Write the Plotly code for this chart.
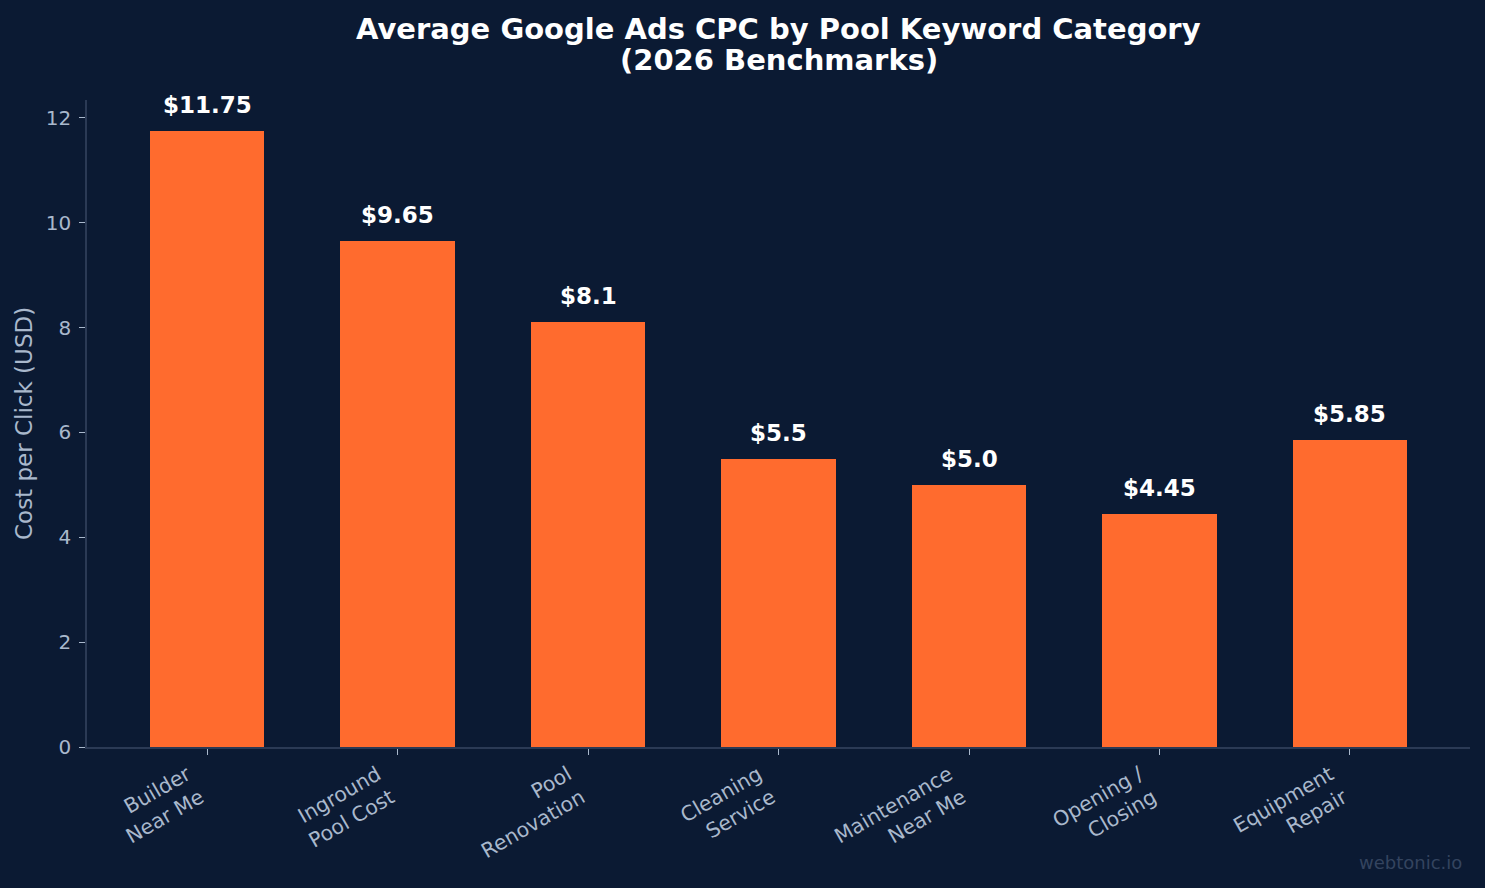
import plotly.graph_objects as go

categories = ["Builder<br>Near Me", "Inground<br>Pool Cost", "Pool<br>Renovation",
              "Cleaning<br>Service", "Maintenance<br>Near Me", "Opening /<br>Closing",
              "Equipment<br>Repair"]
cpc_values = [11.75, 9.65, 8.1, 5.5, 5.0, 4.45, 5.85]
value_labels = ["$11.75", "$9.65", "$8.1", "$5.5", "$5.0", "$4.45", "$5.85"]
y_ticks = [0, 2, 4, 6, 8, 10, 12]
title_lines = ["Average Google Ads CPC by Pool Keyword Category", "(2026 Benchmarks)"]

BG = "#0b1a33"
BAR = "#ff6b2e"
TICK = "#a9b8cc"
SPINE = "#2b3a55"
FONT = "DejaVu Sans"

L, R, T, B = 87, 15, 100, 141
W, H = 1485, 888
PW, PH = W - L - R, H - T - B


def px_x(px):
    return (px - L) / PW


def px_y(py):
    return (H - B - py) / PH


x_idx = list(range(len(categories)))

fig = go.Figure()
fig.add_trace(go.Bar(x=x_idx, y=cpc_values, width=0.6, marker=dict(color=BAR, line=dict(width=0)),
                     hoverinfo="skip"))

for i, (v, lab) in enumerate(zip(cpc_values, value_labels)):
    fig.add_annotation(x=i, y=v, text="<b>" + lab + "</b>", showarrow=False,
                       yanchor="middle", yshift=26,
                       font=dict(family=FONT, size=23, color="white"))

# title (two lines)
for line, cy in zip(title_lines, [29, 60]):
    fig.add_annotation(xref="paper", yref="paper", x=0.5, y=px_y(cy), xanchor="center",
                       yanchor="middle", text="<b>" + line + "</b>", showarrow=False,
                       font=dict(family=FONT, size=29, color="white"))

# y axis label
fig.add_annotation(xref="paper", yref="paper", x=px_x(24), y=px_y(424), xanchor="center",
                   yanchor="middle", textangle=-90, text="Cost per Click (USD)", showarrow=False,
                   font=dict(family=FONT, size=23, color=TICK))

# watermark
fig.add_annotation(xref="paper", yref="paper", x=px_x(1464), y=px_y(862), xanchor="right",
                   yanchor="middle", text="webtonic.io", showarrow=False,
                   font=dict(family=FONT, size=18, color="#34445f"))

fig.update_layout(
    width=W, height=H,
    paper_bgcolor=BG, plot_bgcolor=BG,
    margin=dict(l=L, r=R, t=T, b=B),
    showlegend=False, bargap=0,
    font=dict(family=FONT, color=TICK),
    xaxis=dict(range=[-0.63, 6.63], tickmode="array", tickvals=x_idx, ticktext=categories,
               tickangle=-30, tickfont=dict(family=FONT, size=20.5, color=TICK),
               ticklabelshift=-20,
               ticks="outside", ticklen=6, tickcolor=TICK, tickwidth=1,
               showline=True, linecolor=SPINE, linewidth=1.5, showgrid=False, zeroline=False),
    yaxis=dict(range=[0, 12.34], tickmode="array", tickvals=y_ticks,
               tickfont=dict(family=FONT, size=20, color=TICK),
               ticks="outside", ticklen=6, tickcolor=TICK, tickwidth=1, ticklabelstandoff=4,
               showline=True, linecolor=SPINE, linewidth=1.5, showgrid=False, zeroline=False),
)

fig.write_html("out.html")
